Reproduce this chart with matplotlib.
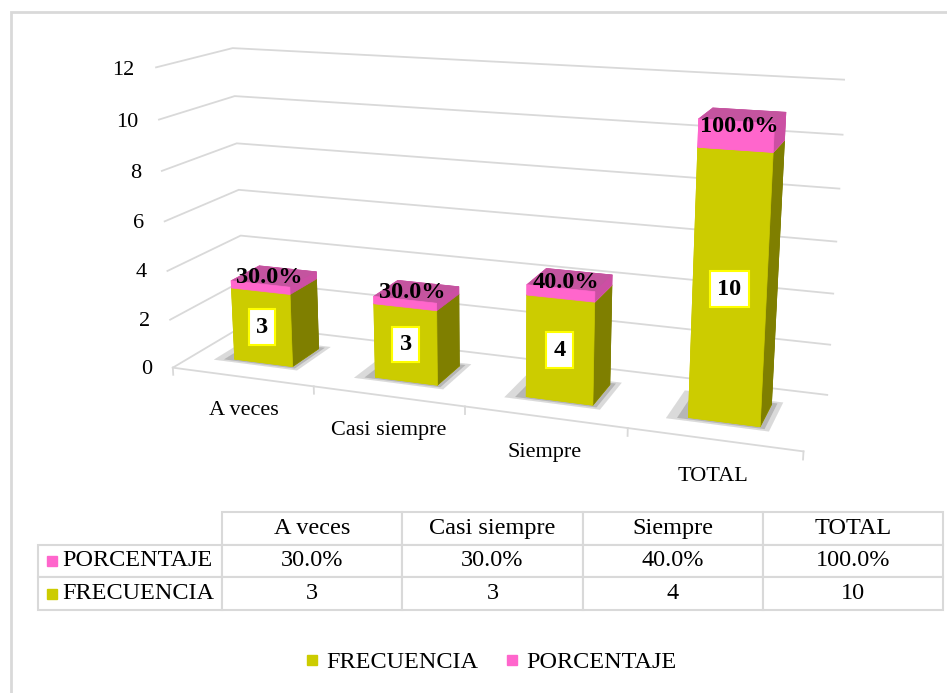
import numpy as np
import matplotlib.pyplot as plt
from matplotlib.lines import Line2D
from matplotlib.patches import Rectangle
from matplotlib.transforms import offset_copy
from mpl_toolkits.mplot3d import proj3d

plt.rcParams['font.family'] = ['Liberation Serif', 'DejaVu Serif']

# datos
categorias = ['A veces', 'Casi siempre', 'Siempre', 'TOTAL']
frecuencia = [3, 3, 4, 10]
porcentaje = [0.30, 0.30, 0.40, 1.00]
etiquetas_pct = ['30.0%', '30.0%', '40.0%', '100.0%']
ticks_z = [0, 2, 4, 6, 8, 10, 12]
series = ['FRECUENCIA', 'PORCENTAJE']

# colores
amarillo = '#CCCC00'
amarillo_lado = '#7F7F00'
rosa = '#FF66CC'
rosa_top = '#C4549F'
rosa_lado = '#CC4FA3'
gris = '#D9D9D9'

W, H = 947, 693
fig = plt.figure(figsize=(W / 100, H / 100), dpi=100)
fig.patch.set_facecolor('white')

# marco exterior (solo se ven los bordes superior e izquierdo)
fig.patches.append(Rectangle((11 / W, -0.2), 2, 1.2 - 12 / H, transform=fig.transFigure,
                             fill=False, ec=gris, lw=2))

# ---- grafico 3D ----
S = 725
cx, cy = 482, 241
ax = fig.add_axes([(cx - S / 2) / W, 1 - (cy + S / 2) / H, S / W, S / H],
                  projection='3d', computed_zorder=False)
ax.set_proj_type('persp', focal_length=0.386)
ax.set_box_aspect((0.394, 0.092, 0.19))
ax.view_init(elev=14.5, azim=-70)
ax.set_xlim(0, 4)
ax.set_ylim(0, 1)
ax.set_zlim(0, 12)
ax.set_axis_off()
M = ax.get_proj()


def texto3d(x, y, z, s, dy=0, **kw):
    # proyecta el punto 3D y coloca el texto en 2D (dy: desplazamiento en puntos)
    px, py, _ = proj3d.proj_transform(x, y, z, M)
    tr = offset_copy(ax.transData, fig=fig, x=0, y=dy, units='points')
    return ax.text2D(px, py, s, transform=tr, **kw)


n = len(categorias)
ancho = 0.42
prof = 0.4
y0 = 0.3

# lineas de division en paredes
for v in ticks_z:
    ax.plot([0, 0, n], [0, 1, 1], [v, v, v], color=gris, lw=1.3, zorder=1)
    texto3d(-0.15, 0, v, str(v), dy=-3, ha='right', va='center', fontsize=16)
ax.plot([0, n], [0, 0], [0, 0], color=gris, lw=1.3, zorder=1)
for k in range(n + 1):
    ax.plot([k, k], [0, 0], [0, -0.3], color=gris, lw=1.3, zorder=1)

xpos = np.arange(n) + 0.5 - ancho / 2

# sombra difusa bajo cada barra (dos capas)
for extra, alfa in [(0.12, 0.15), (0.06, 0.22)]:
    ax.bar3d(xpos - extra, np.full(n, y0 - extra / 2), np.zeros(n), ancho + 1.5 * extra,
             prof + extra, 0.01, color='#7F7F7F', alpha=alfa, shade=False,
             linewidth=0, zorder=1.5)

# barras apiladas
bx = np.concatenate([xpos, xpos])
by = np.full(2 * n, y0)
bz = np.concatenate([np.zeros(n), frecuencia])
dz = np.concatenate([frecuencia, porcentaje])
caras_am = [amarillo, amarillo, amarillo, amarillo_lado, amarillo, amarillo_lado]
caras_ro = [rosa, rosa_top, rosa, rosa_lado, rosa, rosa_lado]
colores = caras_am * n + caras_ro * n
ax.bar3d(bx, by, bz, ancho, prof, dz, color=colores, shade=False,
         edgecolor=colores, linewidth=0.5, zorder=2)

for i in range(n):
    xc = i + 0.5
    texto3d(xc, y0, frecuencia[i] / 2, str(frecuencia[i]), ha='center', va='center',
            fontsize=17.5, fontweight='bold', zorder=5,
            bbox=dict(boxstyle='square,pad=0.3', fc='white', ec='#FFFF00', lw=1.5))
    texto3d(xc, y0 + 0.12, frecuencia[i] + porcentaje[i] / 2, etiquetas_pct[i], dy=4,
            ha='center', va='center', fontsize=17.5, fontweight='bold', zorder=5)
    texto3d(xc, 0, -1.4, categorias[i], ha='center', va='center', fontsize=16)

# ---- tabla de datos ----
tax = fig.add_axes([0, 0, 1, 1])
tax.set_axis_off()
tax.set_xlim(0, W)
tax.set_ylim(H, 0)

t_left, t_right, t_top, t_bot = 38, 943, 512, 610
celdas = [[''] + [f'{p * 100:.1f}%' for p in porcentaje],
          [''] + [str(f) for f in frecuencia]]
tabla = tax.table(cellText=celdas, colLabels=[''] + categorias,
                  cellLoc='center', colLoc='center',
                  colWidths=[184] + [180] * n,
                  bbox=[t_left / W, 1 - t_bot / H, (t_right - t_left) / W, (t_bot - t_top) / H])
tabla.auto_set_font_size(False)
tabla.set_fontsize(17.5)
for cell in tabla.get_celld().values():
    cell.set_edgecolor(gris)
    cell.set_linewidth(1.5)
tabla[0, 0].set_visible(False)

alto_fila = (t_bot - t_top) / 3
for j, (nombre, c) in enumerate([('PORCENTAJE', rosa), ('FRECUENCIA', amarillo)]):
    yc = t_top + alto_fila * (j + 1.5)
    tax.plot(52, yc, marker='s', ms=7, color=c, ls='')
    tax.text(62, yc, nombre, ha='left', va='center', fontsize=17.5)

# ---- leyenda ----
handles = [Line2D([], [], ls='', marker='s', ms=7, color=c) for c in [amarillo, rosa]]
fig.legend(handles, series, loc='center', bbox_to_anchor=(490 / W, 1 - 662 / H), ncol=2,
           frameon=False, fontsize=17.5, handlelength=0.7, handletextpad=0.25,
           columnspacing=1.0)

fig.savefig('out.png', dpi=100)
